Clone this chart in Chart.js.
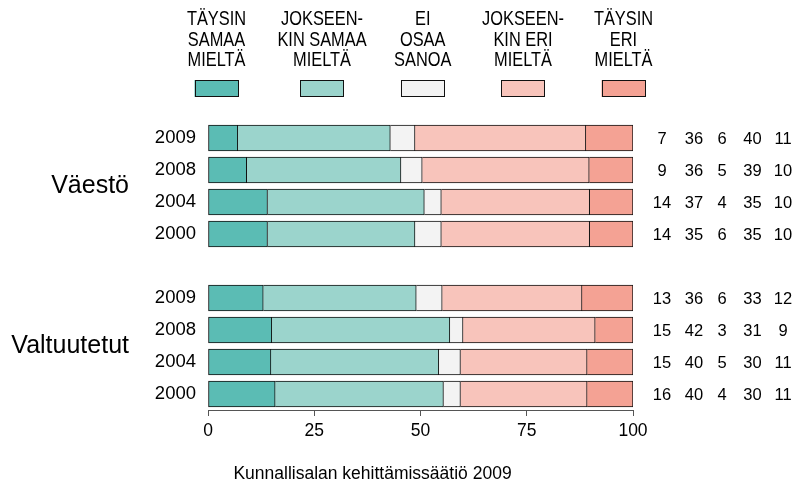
<!DOCTYPE html>
<html>
<head>
<meta charset="utf-8">
<script src="https://cdn.jsdelivr.net/npm/chart.js@4"></script>
<style>
  body { margin: 0; background: #fff; }
  #kuva { width: 803px; height: 484px; }
</style>
</head>
<body>
<div id="kuva"><canvas id="grafiikka" width="803" height="484"></canvas></div>
<script>
const vuodet = ["2009", "2008", "2004", "2000"];
const ryhmat = ["Väestö", "Valtuutetut"];
const vastaukset = [
    ["TÄYSIN", "SAMAA", "MIELTÄ"],
    ["JOKSEEN-", "KIN SAMAA", "MIELTÄ"],
    ["EI", "OSAA", "SANOA"],
    ["JOKSEEN-", "KIN ERI", "MIELTÄ"],
    ["TÄYSIN", "ERI", "MIELTÄ"]
];
// Väestö 2009, 2008, 2004, 2000, then Valtuutetut 2009, 2008, 2004, 2000 (%)
const taysinSamaa     = [7.0, 9.1, 14.0, 14.0, 13.0, 15.0, 14.8, 15.8];
const jokseenkinSamaa = [35.9, 36.3, 36.9, 34.7, 36.0, 41.9, 39.5, 39.6];
const eiOsaa          = [5.8, 5.0, 4.0, 6.2, 6.1, 3.1, 5.1, 4.0];
const jokseenkinEri   = [40.2, 39.3, 34.9, 34.9, 32.9, 31.1, 29.8, 29.8];
const taysinEri       = [11.1, 10.3, 10.2, 10.2, 12.0, 8.9, 10.8, 10.8];
const lahde = "Kunnallisalan kehittämissäätiö 2009";

const varit = ["#5bbcb4", "#9bd4cc", "#f3f3f3", "#f8c4bb", "#f4a294"];
const sarjat = [taysinSamaa, jokseenkinSamaa, eiOsaa, jokseenkinEri, taysinEri];
const fontti = "'Liberation Sans', Arial, sans-serif";

// empty slot between the two groups
const rivit = [...vuodet, "", ...vuodet];
function valilla(arr) {
    return [...arr.slice(0, 4), null, ...arr.slice(4)];
}

const tekstit = {
    id: "tekstit",
    afterDraw(chart) {
        const ctx = chart.ctx;
        const y = chart.scales.y;
        ctx.save();
        ctx.fillStyle = "#000";

        // legend: condensed labels + boxes
        const kesket = [216.5, 322, 422.7, 523, 623.5];
        ctx.font = "21px " + fontti;
        ctx.textAlign = "center";
        ctx.textBaseline = "alphabetic";
        vastaukset.forEach((rivi, i) => {
            rivi.forEach((t, j) => {
                ctx.save();
                ctx.translate(kesket[i], 25 + j * 20.5);
                ctx.scale(0.78, 1);
                ctx.fillText(t, 0, 0);
                ctx.restore();
            });
            ctx.fillStyle = varit[i];
            ctx.fillRect(kesket[i] - 22, 80, 44, 17);
            ctx.strokeStyle = "#111";
            ctx.lineWidth = 1;
            ctx.strokeRect(Math.round(kesket[i] - 22) + 0.5, 80.5, 43, 16);
            ctx.fillStyle = "#000";
        });

        // group names
        ctx.font = "25px " + fontti;
        ctx.textAlign = "right";
        ctx.textBaseline = "middle";
        ctx.fillText(ryhmat[0], 129, (y.getPixelForValue(1) + y.getPixelForValue(2)) / 2);
        ctx.fillText(ryhmat[1], 129, (y.getPixelForValue(6) + y.getPixelForValue(7)) / 2);

        // numbers on the right
        const sarakkeet = [662, 694, 722, 752.5, 783];
        ctx.font = "16.5px " + fontti;
        ctx.textAlign = "center";
        for (let k = 0; k < 8; k++) {
            const rivi = k < 4 ? k : k + 1;
            const py = y.getPixelForValue(rivi);
            sarjat.forEach((s, i) => {
                ctx.fillText(String(Math.round(s[k])), sarakkeet[i], py + 1);
            });
        }

        // source
        ctx.font = "17.5px " + fontti;
        ctx.textBaseline = "alphabetic";
        ctx.fillText(lahde, 372.5, 479);
        ctx.restore();
    }
};

new Chart(document.getElementById("grafiikka").getContext("2d"), {
    type: "bar",
    data: {
        labels: rivit,
        datasets: sarjat.map((s, i) => ({
            label: vastaukset[i].join(" "),
            data: valilla(s),
            backgroundColor: varit[i],
            borderColor: "#111",
            borderWidth: 1,
            borderSkipped: i === 0 ? false : "start",
            barThickness: 26
        }))
    },
    options: {
        indexAxis: "y",
        responsive: false,
        animation: false,
        layout: { padding: { top: 122, right: 170, left: 0, bottom: 0 } },
        plugins: {
            legend: { display: false },
            tooltip: { enabled: false }
        },
        scales: {
            x: {
                stacked: true,
                min: 0,
                max: 100,
                ticks: {
                    stepSize: 25,
                    color: "#000",
                    padding: 5,
                    font: { family: fontti, size: 17.5 }
                },
                grid: { drawOnChartArea: false, tickLength: 6, color: "#555" },
                border: { color: "#555", width: 1 },
                afterFit(scale) { scale.height = 74; }
            },
            y: {
                stacked: true,
                ticks: {
                    color: "#000",
                    padding: 12,
                    autoSkip: false,
                    font: { family: fontti, size: 18.5 }
                },
                grid: { display: false, drawTicks: false },
                border: { display: false },
                afterFit(scale) { scale.width = 208; }
            }
        }
    },
    plugins: [tekstit]
});
</script>
</body>
</html>
